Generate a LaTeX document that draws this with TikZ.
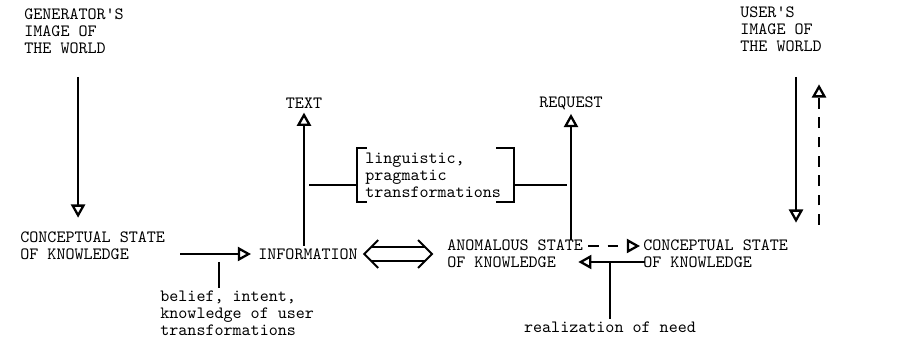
\documentclass[tikz,border=0pt]{standalone}
\usetikzlibrary{arrows.meta,calc}

\begin{document}
\begin{tikzpicture}[x=0.02cm, y=-0.02cm, every node/.style={font=\ttfamily\fontsize{9.8}{9.7}\selectfont, inner sep=0pt, align=left},
	arr/.style={line width=1.1pt, -{Triangle[open, length=7.5pt, width=8pt, line width=1.3pt]}},
	link/.style={line width=1.1pt}]
	\useasboundingbox (0,0) rectangle (897,351);
	% generator side
	\node[anchor=west] (gen) at (24,31) {GENERATOR'S\\IMAGE OF\\THE WORLD};
	\node[anchor=west] (csgen) at (20,246) {CONCEPTUAL STATE\\OF KNOWLEDGE};
	\node[anchor=west] (info) at (258,254) {INFORMATION};
	\node[anchor=west] (belief) at (160,313) {belief, intent,\\knowledge of user\\transformations};
	% middle
	\node (text) at (304,103) {TEXT};
	\node (request) at (571,103) {REQUEST};
	\node[anchor=west, text width=2.8cm, inner xsep=0.16cm, minimum height=1.08cm] (trans) at (357,175) {linguistic,\\pragmatic\\transformations};
	% user side
	\node[anchor=west] (ass) at (447,254) {ANOMALOUS STATE\\OF KNOWLEDGE};
	\node[anchor=west] (csuser) at (643,254) {CONCEPTUAL STATE\\OF KNOWLEDGE};
	\node[anchor=west] (user) at (740,29) {USER'S\\IMAGE OF\\THE WORLD};
	\node (need) at (610,327) {realization of need};

	\draw[arr] ([xshift=0.08cm, yshift=-0.46cm]gen.south) -- ([xshift=0.08cm, yshift=0.28cm]gen.south |- csgen.north);
	\draw[arr] ([xshift=0.3cm]csgen.east |- info) -- ([xshift=-0.14cm]info.west);
	\coordinate (bj) at ($([xshift=0.3cm]csgen.east |- info)!0.5!(info.west)$);
	\draw[link] ([yshift=-0.16cm]bj) -- ([yshift=0.05cm]belief.north -| bj);

	\draw[arr] ([yshift=0.05cm]info.north -| text) -- ([yshift=-0.08cm]text.south);
	\draw[arr] (ass.north -| request) -- ([yshift=-0.08cm]request.south);
	\draw[link] ([xshift=0.1cm, yshift=-0.2cm]trans.west -| text) -- ([yshift=-0.2cm]trans.west);
	\draw[link] ([yshift=-0.2cm]trans.east) -- ([xshift=-0.08cm, yshift=-0.2cm]trans.east -| request);
	\draw[link] ([xshift=0.2cm]trans.north west) -- (trans.north west) -- (trans.south west) -- ([xshift=0.2cm]trans.south west);
	\draw[link] ([xshift=-0.35cm]trans.north east) -- (trans.north east) -- (trans.south east) -- ([xshift=-0.35cm]trans.south east);

	% double arrow between information and anomalous state
	\coordinate (dl) at ([xshift=0.12cm]info.east);
	\coordinate (dr) at ([xshift=-0.3cm]ass.west);
	\draw[link] ([xshift=0.28cm, yshift=0.28cm]dl) -- (dl) -- ([xshift=0.28cm, yshift=-0.28cm]dl);
	\draw[link] ([xshift=-0.28cm, yshift=0.28cm]dr) -- (dr) -- ([xshift=-0.28cm, yshift=-0.28cm]dr);
	\draw[link] ([xshift=0.14cm, yshift=0.14cm]dl) -- ([xshift=-0.14cm, yshift=0.14cm]dr);
	\draw[link] ([xshift=0.14cm, yshift=-0.14cm]dl) -- ([xshift=-0.14cm, yshift=-0.14cm]dr);

	\draw[arr, dash pattern=on 6pt off 5pt] ([xshift=0.1cm, yshift=0.16cm]ass.east) -- ([xshift=-0.06cm, yshift=0.16cm]csuser.west);
	\draw[arr] ([xshift=0.04cm, yshift=-0.16cm]csuser.west) -- ([xshift=-0.1cm, yshift=-0.16cm]ass.east);
	\draw[link] ([yshift=0.05cm]need.north) -- ([yshift=-0.16cm]need.north |- csuser.west);

	\coordinate (ud) at ([xshift=0.3cm]user.south);
	\coordinate (uu) at ([xshift=0.76cm]user.south);
	\draw[arr] ([yshift=-0.5cm]ud) -- ([yshift=0.34cm]ud |- csuser.north);
	\draw[arr, dash pattern=on 6pt off 5pt] ([yshift=0.3cm]uu |- csuser.north) -- ([yshift=-0.65cm]uu);
\end{tikzpicture}
\end{document}
